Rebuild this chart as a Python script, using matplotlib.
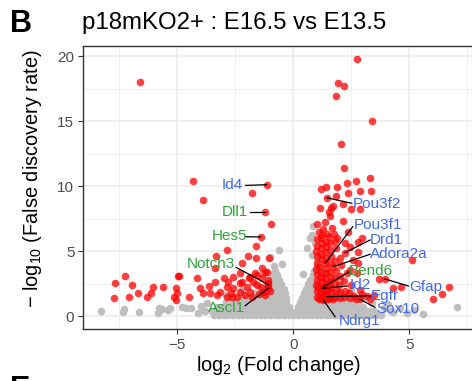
import matplotlib
matplotlib.use("Agg")
import matplotlib.pyplot as plt
from matplotlib.ticker import MultipleLocator

plt.rcParams['font.family'] = ['Liberation Sans', 'DejaVu Sans']
plt.rcParams['mathtext.fontset'] = 'custom'
plt.rcParams['mathtext.rm'] = 'Liberation Sans'
plt.rcParams['mathtext.default'] = 'regular'

# ---------------- data ----------------
title = "p18mKO2+ : E16.5 vs E13.5"
x_label = "log$_2$ (Fold change)"
y_label = "\u2212 log$_{10}$ (False discovery rate)"
x_ticks = [-5, 0, 5]
y_ticks = [0, 5, 10, 15, 20]

# non-significant genes (grey), stored as rows of the dense cloud
gray_row_y = [0.05, 0.35, 0.7, 1.05, 1.4, 1.75, 2.1, 2.45, 2.8, 3.15, 3.5, 3.85, 4.2, 4.5]
gray_row_x = [
    [-3.4, -3.2, -3.0, -2.8, -2.6, -2.4, -2.2, -2.0, -1.8, -1.6, -1.4, -1.2, -1.0, -0.8, -0.6, -0.4, -0.2,
     0.0, 0.2, 0.4, 0.6, 0.8, 1.0, 1.2, 1.4, 1.6, 1.8, 2.0, 2.2, 2.4, 2.6, 2.8, 3.0, 3.2, 3.4, 3.6, 3.8],
    [-3.5, -3.3, -3.1, -2.9, -2.7, -2.5, -2.3, -2.1, -1.9, -1.7, -1.5, -1.3, -1.1, -0.9, -0.7, -0.5, -0.3,
     -0.15, 0.15, 0.3, 0.5, 0.7, 0.9, 1.1, 1.3, 1.5, 1.7, 1.9, 2.1, 2.3, 2.5, 2.7, 2.9, 3.1, 3.3, 3.5],
    [-3.3, -3.1, -2.9, -2.7, -2.5, -2.3, -2.1, -1.9, -1.7, -1.5, -1.3, -1.1, -0.9, -0.7, -0.5, -0.35, -0.2,
     0.2, 0.35, 0.5, 0.7, 0.9, 1.1, 1.3, 1.5, 1.7, 1.9, 2.1, 2.3, 2.5, 2.7, 2.9, 3.0],
    [-2.9, -2.7, -2.5, -2.3, -2.1, -1.9, -1.7, -1.5, -1.3, -1.1, -0.9, -0.7, -0.5, -0.3,
     0.3, 0.45, 0.6, 0.8, 1.0, 1.2, 1.4, 1.6, 1.8, 2.0, 2.2, 2.4, 2.6],
    [-2.25, -2.05, -1.85, -1.65, -1.45, -1.25, -1.05, -0.85, -0.65, -0.45, -0.3,
     0.37, 0.55, 0.75, 0.95, 1.15, 1.35, 1.55, 1.75, 1.95, 2.15, 2.25],
    [-1.65, -1.45, -1.25, -1.05, -0.85, -0.65, -0.5, -0.36,
     0.46, 0.6, 0.8, 1.0, 1.2, 1.4, 1.6, 1.8, 1.95],
    [-1.3, -1.1, -0.9, -0.7, -0.55, -0.42, 0.55, 0.7, 0.9, 1.1, 1.3, 1.5, 1.62],
    [-1.13, -0.95, -0.8, -0.65, -0.51, 0.64, 0.8, 1.0, 1.2, 1.4, 1.56],
    [-0.98, -0.8, -0.62, 0.74, 0.9, 1.1, 1.3, 1.47],
    [-0.88, -0.72, 0.84, 1.0, 1.15, 1.31],
    [-0.78, 0.91, 1.07, 1.23],
    [-0.82, 1.0, 1.14],
    [1.08],
    [1.0],
]
gray_extra_x = [-0.63, -0.99, -0.5, -1.3, -1.6, -2.2, -2.9, -3.7, -3.9, 0.73, 0.8, 0.87, 0.8, 0.6, 0.95,
                0.4, 2.0, 2.5, 3.0, 3.4, 3.9, 4.2,
                -8.31, -7.31, -7.35, -6.64, -5.78, -5.85, -5.64, -5.42, -5.31, -4.78, -4.64, -4.42,
                -4.1, -4.0, -3.8, 4.3, 4.6, 4.9, 5.57, 7.06, 4.1, 5.2]
gray_extra_y = [5.1, 4.56, 4.0, 3.2, 2.5, 2.0, 1.6, 1.0, 0.5, 6.0, 6.2, 6.9, 4.7, 5.2, 5.6,
                3.2, 2.8, 1.9, 1.4, 1.0, 0.6, 0.35,
                0.41, 0.51, 0.3, 0.31, 0.59, 0.2, 0.51, 0.46, 0.64, 0.67, 0.59, 0.59,
                0.25, 0.8, 0.35, 0.3, 0.6, 0.2, 0.18, 0.67, 0.9, 0.5]

# significant genes (red), down-regulated side
red_left_x = [-6.61, -4.31, -1.15, -1.77, -3.89, -1.22, -0.96, -1.40, -1.63, -2.85, -1.96, -1.63, -3.32,
              -1.06, -2.2, -4.92, -4.16, -5.61, -5.06, -5.02, -4.49, -5.14, -7.25, -7.68, -6.95, -7.74,
              -7.07, -6.68, -6.32, -6.14, -6.07, -5.06, -4.97,
              -4.02, -3.62, -3.37, -3.16, -2.87, -2.59, -2.66, -2.30, -2.01, -1.87, -1.58, -1.36, -1.22,
              -1.08, -1.29, -1.79, -2.44, -2.87, -3.30, -3.59, -3.88, -2.80, -2.30, -1.87, -1.58, -3.37,
              -2.30, -1.35, -1.15, -1.65, -1.93, -2.22, -1.07, -1.07, -1.2, -1.5, -1.0, -2.1, -2.7,
              -3.0, -2.6, -1.1, -1.4, -1.75]
red_left_y = [18.0, 10.4, 10.1, 9.5, 8.9, 8.02, 7.1, 6.08, 5.4, 5.1, 4.6, 4.5, 4.6,
              4.5, 4.05, 3.1, 2.9, 2.2, 2.13, 1.8, 1.48, 1.44, 3.1, 2.56, 2.38, 1.36,
              1.44, 1.79, 1.44, 1.74, 2.26, 1.23, 3.1,
              2.13, 2.31, 2.64, 1.87, 2.26, 2.13, 1.49, 1.87, 2.26, 1.87, 2.38, 2.9, 3.41,
              2.51, 1.87, 1.49, 1.49, 1.44, 1.62, 1.74, 1.74, 2.64, 2.51, 3.02, 3.15, 3.67,
              3.28, 3.67, 3.4, 3.3, 2.9, 2.64, 2.4, 2.15, 1.6, 1.7, 1.9, 1.6, 1.8,
              2.9, 3.0, 2.8, 2.2, 2.6]

# significant genes (red), up-regulated side
red_right_x = [2.76, 1.93, 2.20, 1.83, 3.39, 2.05, 2.20, 2.70, 3.30, 2.30, 1.21, 1.40, 2.89, 3.33, 2.37,
               1.44, 1.83, 2.16, 1.17, 1.62, 1.73, 2.49, 2.86, 1.52, 1.59, 1.04, 1.37, 2.13, 1.66, 1.30,
               1.23, 2.37, 1.87,
               1.0, 1.0, 0.98, 1.02, 1.0, 0.98, 1.02, 1.0, 0.97, 1.03, 1.0,
               1.2, 1.18, 1.22, 1.2, 1.18, 1.22, 1.2, 1.18, 1.22, 1.2,
               1.4, 1.42, 1.38, 1.4, 1.42, 1.4, 1.38, 1.42, 1.4, 1.45,
               1.6, 1.62, 1.58, 1.6, 1.62, 1.58, 1.6, 1.62, 1.6, 1.58,
               1.8, 1.82, 1.78, 1.8, 1.82, 1.8, 1.85, 1.8,
               2.0, 2.02, 1.98, 2.0, 2.05, 2.0,
               2.2, 2.22, 2.18, 2.3,
               1.1, 1.08, 1.1, 1.3, 1.32, 1.5, 1.5, 1.7, 1.1, 1.55, 1.9, 1.75,
               1.37, 2.23, 1.73, 1.30, 1.23, 1.44, 2.88, 3.95, 1.30,
               2.23, 2.45, 2.80, 2.59, 2.78, 2.45, 2.73, 3.69, 4.31, 4.66, 6.71, 6.42, 6.02, 2.62,
               3.16, 3.30, 2.88, 5.12, 2.95, 2.80, 2.5, 2.4, 3.5, 2.7, 2.45, 2.95]
red_right_y = [19.8, 17.9, 17.7, 16.9, 15.0, 13.25, 11.4, 10.4, 10.6, 10.2, 9.8, 9.95, 9.6, 9.6, 9.5,
               9.1, 9.25, 8.6, 8.3, 8.3, 8.45, 8.2, 8.2, 8.0, 7.7, 7.1, 7.2, 7.3, 6.8, 6.7,
               6.2, 6.5, 9.95,
               1.5, 1.95, 2.4, 2.8, 3.2, 3.6, 4.1, 4.6, 5.0, 5.4, 5.9,
               1.4, 1.8, 2.6, 3.0, 3.4, 4.4, 4.8, 5.2, 5.6, 6.0,
               1.75, 2.5, 2.9, 3.3, 3.7, 4.5, 4.9, 5.3, 5.7, 6.3,
               1.4, 1.85, 2.2, 2.6, 3.0, 3.4, 4.1, 4.6, 5.1, 5.6,
               1.5, 1.95, 2.45, 2.9, 3.5, 4.2, 5.2, 5.8,
               1.4, 1.85, 2.4, 3.1, 3.9, 4.5,
               1.5, 1.95, 2.7, 3.3,
               1.3, 2.2, 3.8, 1.6, 2.0, 1.3, 2.0, 1.3, 6.5, 6.1, 6.0, 6.3,
               4.05, 4.87, 3.8, 2.25, 2.13, 1.49, 1.28, 2.85, 1.23,
               5.6, 5.3, 4.95, 4.3, 4.05, 3.55, 3.3, 2.87, 2.18, 2.25, 2.25, 1.67, 1.28, 1.54,
               1.54, 1.28, 2.0, 4.3, 6.0, 5.7, 2.4, 1.8, 1.6, 1.3, 1.35, 1.7]

# labelled genes
gene_names = ["Id4", "Dll1", "Hes5", "Notch3", "Ascl1", "Pou3f2", "Pou3f1", "Drd1", "Adora2a",
              "Bend6", "Id2", "Egfr", "Sox10", "Gfap", "Ndrg1"]
gene_x = [-1.15, -1.22, -1.40, -1.07, -1.07, 1.44, 1.37, 2.23, 1.73, 1.30, 1.23, 1.44, 2.88, 3.95, 1.30]
gene_y = [10.1, 8.02, 6.08, 2.4, 2.15, 9.1, 4.05, 4.87, 3.8, 2.25, 2.13, 1.49, 1.28, 2.85, 1.23]
gene_group = ["blue", "green", "green", "green", "green", "blue", "blue", "blue", "blue",
              "green", "blue", "blue", "blue", "blue", "blue"]

# label layout (text centre and start of the connector)
label_tx = [-2.63, -2.50, -2.77, -3.56, -2.88, 3.59, 3.63, 4.02, 4.55, 3.34, 2.88, 3.95, 4.50, 5.70, 2.84]
label_ty = [10.08, 8.0, 6.13, 4.02, 0.63, 8.6, 7.04, 5.87, 4.75, 3.48, 2.42, 1.51, 0.52, 2.25, -0.37]
seg_x = [-2.05, -1.87, -2.04, -2.47, -2.08, 2.52, 2.56, 3.31, 3.31, 2.37, 2.33, 3.31, 3.52, 4.96, 1.80]
seg_y = [10.05, 8.02, 6.1, 3.75, 0.79, 8.67, 6.87, 5.85, 4.75, 3.36, 2.31, 1.56, 0.67, 2.31, -0.05]

# ---------------- drawing ----------------
W, H = 472, 381
fig = plt.figure(figsize=(W / 100, H / 100), dpi=100)
left_px, right_px, top_px, bottom_px = 82.7, 474.0, 46.0, 329.3
ax = fig.add_axes([left_px / W, 1 - bottom_px / H, (right_px - left_px) / W, (bottom_px - top_px) / H])

ax.set_xlim(-9.08, 7.79)
ax.set_ylim(-1.02, 20.77)
ax.set_xticks(x_ticks)
ax.set_yticks(y_ticks)
ax.xaxis.set_minor_locator(MultipleLocator(2.5))
ax.yaxis.set_minor_locator(MultipleLocator(2.5))
ax.grid(which='major', color='#EBEBEB', lw=1.1, zorder=0)
ax.grid(which='minor', color='#EBEBEB', lw=0.55, zorder=0)
ax.set_axisbelow(True)
ax.tick_params(which='minor', length=0)
ax.tick_params(which='major', length=3.5, width=0.8, color='#333333', labelcolor='#4D4D4D',
               labelsize=11, pad=2.5)
for sp in ax.spines.values():
    sp.set_color('#333333')
    sp.set_linewidth(1.0)

gx, gy = [], []
for yv, row in zip(gray_row_y, gray_row_x):
    gx.extend(row)
    gy.extend([yv] * len(row))
gx.extend(gray_extra_x)
gy.extend(gray_extra_y)
ax.scatter(gx, gy, s=30, color='#BEBEBE', linewidths=0, zorder=2)
ax.scatter(red_left_x + red_right_x, red_left_y + red_right_y, s=30, color='#FF0000',
           alpha=0.75, linewidths=0, zorder=3)

col = {"blue": "#4169F0", "green": "#2EA33A"}
for name, px, py, tx, ty, sx, sy, g in zip(gene_names, gene_x, gene_y, label_tx, label_ty,
                                           seg_x, seg_y, gene_group):
    ax.plot([sx, px], [sy, py], color='black', lw=0.9, zorder=4)
    ax.text(tx, ty, name, color=col[g], fontsize=11, ha='center', va='center', zorder=5)

ax.set_xlabel(x_label, fontsize=14.4)
ax.set_ylabel(y_label, fontsize=14.4)
ax.xaxis.set_label_coords((278 - left_px) / (right_px - left_px), -(371 - bottom_px) / (bottom_px - top_px))
ax.xaxis.label.set_va('baseline')
ax.yaxis.set_label_coords(-(left_px - 33) / (right_px - left_px), (bottom_px - 179) / (bottom_px - top_px))
ax.yaxis.label.set_va('center')

fig.text(81.7 / W, 1 - 29.3 / H, title, fontsize=17.3, ha='left', va='baseline', color='black')
fig.text(10 / W, 1 - 31.5 / H, "B", fontsize=22, fontweight='bold', ha='left', va='baseline')
fig.text(10 / W, 1 - 375 / H, "E", fontsize=22, fontweight='bold', ha='left', va='top')

fig.savefig("out.png", dpi=100)
